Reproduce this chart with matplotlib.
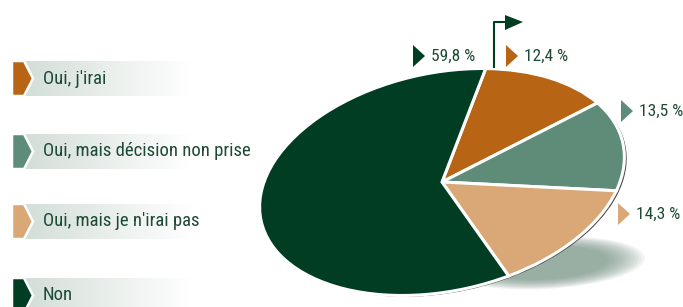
import numpy as np
import matplotlib
matplotlib.use('Agg')
import matplotlib.pyplot as plt
from matplotlib.patches import Polygon, Ellipse
from matplotlib.transforms import Affine2D
from matplotlib.colors import to_rgb

plt.rcParams['font.family'] = ['Roboto Condensed', 'Open Sans Condensed', 'Roboto', 'DejaVu Sans']

# data
categories = ["Oui, j'irai", "Oui, mais décision non prise", "Oui, mais je n'irai pas", "Non"]
values = [12.4, 13.5, 14.3, 59.8]
labels = ["12,4 %", "13,5 %", "14,3 %", "59,8 %"]
colors = ["#b76515", "#5e8c78", "#daa776", "#003d23"]
txt_col = "#1d4a33"

W, H = 683, 307
fig = plt.figure(figsize=(W / 100, H / 100), dpi=100)
ax = fig.add_axes([0, 0, 1, 1])

def Y(y):
    # image row -> axis y
    return H - y

# pie geometry (squashed + tilted ellipse)
cx, cy = 442, Y(182)
rad = 185
k = 0.59
tilt = 12
squash = Affine2D().translate(-cx, -cy).scale(1, k).rotate_deg(tilt).translate(cx, cy)

# soft shadow under the pie
for i in range(12):
    f = 1 - i / 12.0
    ax.add_patch(Ellipse((545, Y(263)), 200 * (0.6 + 0.4 * f), 52 * (0.6 + 0.4 * f),
                         angle=3, color="#6f8f7f", alpha=0.09, lw=0, zorder=1))

# rim
rim = Ellipse((cx + 2, cy - 3), 2 * rad, 2 * rad, color="#4a4a4a", lw=0, zorder=2)
rim.set_transform(squash + ax.transData)
ax.add_patch(rim)

wedges, _ = ax.pie(values, colors=colors, startangle=69, counterclock=False,
                   radius=rad, center=(cx, cy), frame=True,
                   wedgeprops=dict(edgecolor='white', linewidth=2.2))
for w in wedges:
    w.set_transform(squash + ax.transData)
    w.set_zorder(3)

# value labels with triangles
lab_pos = [(506, 56), (621, 111), (618, 214), (413, 56)]
for (x, y), lab, c in zip(lab_pos, labels, colors):
    ax.add_patch(Polygon([(x, Y(y - 11)), (x, Y(y + 11)), (x + 12, Y(y))],
                         closed=True, color=c, lw=0, zorder=4))
    ax.text(x + 18, Y(y), lab, fontsize=12.5, color=txt_col, va='center', ha='left', zorder=5)

# little flag
ax.plot([494, 494, 505], [Y(67), Y(22), Y(22)], color=colors[3], lw=1.5, zorder=4)
ax.add_patch(Polygon([(505, Y(15)), (505, Y(30)), (523, Y(22))], closed=True,
                     color=colors[3], lw=0, zorder=4))

# legend
tops = [61, 134, 204, 278]
hgt = 35
grad = np.ones((1, 256, 3))
c0 = np.array(to_rgb("#d3ded8"))
t = np.linspace(0, 1, 256)[:, None]
grad[0] = c0 * (1 - t) + np.ones(3) * t
for top, cat, c in zip(tops, categories, colors):
    bot = top + hgt
    mid = top + hgt / 2
    ax.imshow(grad, extent=[24, 192, Y(bot), Y(top)], aspect='auto', zorder=1)
    ax.add_patch(Polygon([(12, Y(top)), (24, Y(top)), (33, Y(mid)), (24, Y(bot)), (12, Y(bot))],
                         closed=True, facecolor=c, edgecolor='white', lw=1.8, zorder=2))
    ax.text(43, Y(mid), cat, fontsize=13.5, color=txt_col, va='center', ha='left', zorder=3)

ax.set_xlim(0, W)
ax.set_ylim(0, H)
ax.set_aspect('auto')
ax.axis('off')
fig.savefig('out.png', dpi=100)
